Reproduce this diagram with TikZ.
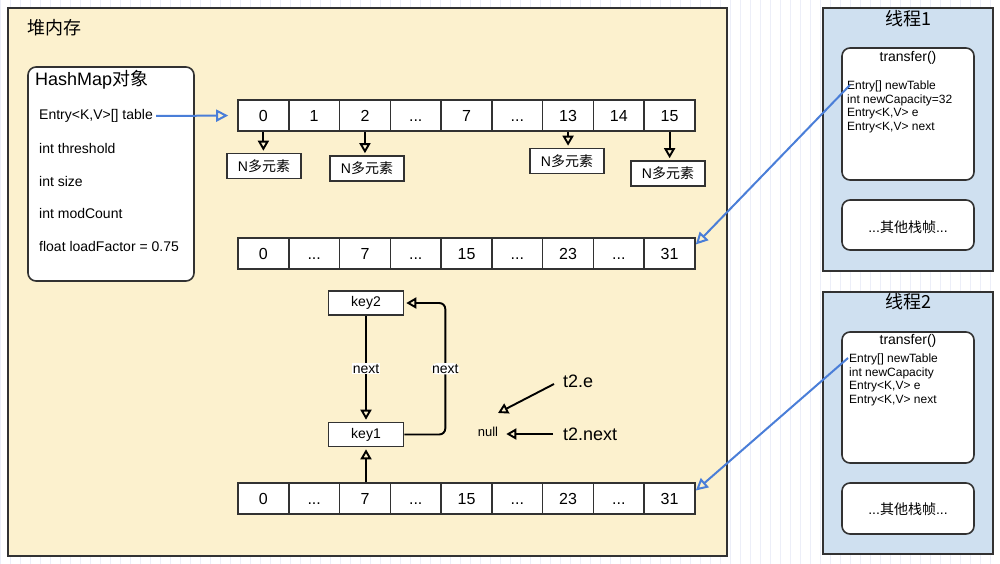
\documentclass[tikz,border=0pt]{standalone}
\usepackage{fontspec}
\setmainfont{Liberation Sans}
\newfontfamily\cjk{Noto Sans CJK SC}
\usetikzlibrary{arrows.meta}
\definecolor{heapfill}{RGB}{252,241,206}
\definecolor{thrfill}{RGB}{207,224,240}
\definecolor{edge}{RGB}{50,50,50}
\definecolor{blueline}{RGB}{74,126,216}
\definecolor{gridc}{RGB}{236,238,248}
\newcommand\ddd{...}
\newcommand\fs[1]{\fontsize{#1}{#1}\selectfont}
\tikzset{
  heapbox/.style={draw=edge, line width=1.6pt, fill=heapfill},
  thrbox/.style={draw=edge, line width=1.6pt, fill=thrfill},
  frame/.style={draw=edge, line width=1.6pt, fill=white, rounded corners=8pt},
  cell/.style={draw=edge, line width=1.6pt, fill=white, minimum width=50.78pt, minimum height=31pt, inner sep=0pt, text height=11.5pt, text depth=0pt, font=\fs{16}},
  nbox/.style={draw=edge, line width=1.6pt, fill=white, minimum width=74pt, minimum height=25pt, inner sep=0pt, font=\fs{14}},
  keybox/.style={draw=edge, line width=1.6pt, fill=white, minimum width=75pt, minimum height=24pt, inner sep=0pt, font=\fs{14}},
  field/.style={anchor=west, inner sep=0pt, font=\fs{14}},
  tfield/.style={anchor=west, inner sep=0pt, font=\fs{12}},
  blk/.style={draw=black, line width=1.9pt, -{Triangle[open, length=10pt, width=11pt]}},
  blu/.style={draw=blueline, line width=2pt, -{Triangle[open, length=12pt, width=12pt]}},
  lbl/.style={fill=white, inner sep=1pt, font=\fs{14}},
}
\begin{document}
\begin{tikzpicture}[x=1pt,y=-1pt]
\useasboundingbox (0,0) rectangle (1000,564);
\fill[white] (0,0) rectangle (1000,564);
\draw[gridc, line width=0.5pt, step=10] (0,0) grid (1000,564);

% heap
\draw[heapbox] (8,8) rectangle (727,556);
\node[anchor=west, inner sep=0pt, font=\fs{18}\cjk] (heapt) at (27,28) {堆内存};

% HashMap object
\draw[frame] (28,67) rectangle (194,281);
\node[anchor=west, inner sep=0pt, font=\fs{18}] (hmt) at (35,80) {HashMap{\cjk 对象}};
\node[field] (ftab) at (39,116) {Entry<K,V>[] table};
\node[field] (fthr) at (39,148) {int threshold};
\node[field] (fsz) at (39,181) {int size};
\node[field] (fmod) at (39,213) {int modCount};
\node[field] (flf) at (39,246) {float loadFactor = 0.75};

% arrays
\foreach \lab [count=\i from 0] in {0,1,2,\ddd,7,\ddd,13,14,15}
  \node[cell] (a1-\i) at ({238+50.78*(\i+0.5)},115.5) {\lab};
\foreach \lab [count=\i from 0] in {0,\ddd,7,\ddd,15,\ddd,23,\ddd,31}
  \node[cell] (a2-\i) at ({238+50.78*(\i+0.5)},253.5) {\lab};
\foreach \lab [count=\i from 0] in {0,\ddd,7,\ddd,15,\ddd,23,\ddd,31}
  \node[cell] (a3-\i) at ({238+50.78*(\i+0.5)},498.5) {\lab};

\draw[blu, shorten >=9pt] ([xshift=3pt]ftab.east) -- (a1-0.west);

% N elements
\node[nbox] (n0) at (264,166) {N{\cjk 多元素}};
\node[nbox] (n2) at (367,168.5) {N{\cjk 多元素}};
\node[nbox] (n13) at (567,161) {N{\cjk 多元素}};
\node[nbox] (n15) at (668,173.5) {N{\cjk 多元素}};
\draw[blk, shorten >=2pt] (a1-0.south) -- (a1-0.south |- n0.north);
\draw[blk, shorten >=2pt] (a1-2.south) -- (a1-2.south |- n2.north);
\draw[blk, shorten >=2pt] (a1-6.south) -- (a1-6.south |- n13.north);
\draw[blk, shorten >=2pt] (a1-8.south) -- (a1-8.south |- n15.north);

% keys
\node[keybox] (k2) at (366,303) {key2};
\node[keybox] (k1) at (366,434.5) {key1};
\draw[blk, shorten >=2pt] (k2.south) -- node[lbl] {next} (k1.north);
\draw[blk, rounded corners=6pt, shorten >=2pt] (k1.east) -| ([xshift=41pt]k2.east) node[lbl, pos=0.75] {next} -- (k2.east);
\draw[blk, shorten >=2pt] (k1.south |- a3-2.north) -- (k1.south);

% t2 pointers
\node[inner sep=0pt, font=\fs{13}] (null) at (488,432) {null};
\coordinate (nullup) at (498,413);
\node[anchor=west, inner sep=0pt, font=\fs{18}] (t2e) at (563,381) {t2.e};
\node[anchor=west, inner sep=0pt, font=\fs{18}] (t2n) at (563,434) {t2.next};
\draw[blk] ([xshift=-9pt,yshift=-3pt]t2e.west) -- (nullup);
\draw[blk] ([xshift=-10pt]t2n.west) -- ([xshift=8pt,yshift=-2pt]null.east);

% thread 1
\draw[thrbox] (823,8) rectangle (993,271);
\node[inner sep=0pt, font=\fs{18}\cjk] (th1) at (908,19) {线程1};
\draw[frame] (842,48) rectangle (974,180);
\node[inner sep=0pt, font=\fs{14}] (tr1) at (908,58) {transfer()};
\node[tfield] (t1a) at (847,86) {Entry[] newTable};
\node[tfield] (t1b) at (847,100) {int newCapacity=32};
\node[tfield] (t1c) at (847,114) {Entry<K,V> e};
\node[tfield] (t1d) at (847,128) {Entry<K,V> next};
\draw[frame] (842,200) rectangle (974,250);
\node[inner sep=0pt, font=\fs{14}] (o1) at (908,227) {...{\cjk 其他栈帧}...};

% thread 2
\draw[thrbox] (823,292) rectangle (993,554);
\node[inner sep=0pt, font=\fs{18}\cjk] (th2) at (908,302) {线程2};
\draw[frame] (842,332) rectangle (974,463);
\node[inner sep=0pt, font=\fs{14}] (tr2) at (908,341) {transfer()};
\node[tfield] (t2a) at (849,359) {Entry[] newTable};
\node[tfield] (t2b) at (849,373) {int newCapacity};
\node[tfield] (t2c) at (849,387) {Entry<K,V> e};
\node[tfield] (t2d) at (849,401) {Entry<K,V> next};
\draw[frame] (842,483) rectangle (974,534);
\node[inner sep=0pt, font=\fs{14}] (o2) at (908,509) {...{\cjk 其他栈帧}...};

% blue pointers
\draw[blu] ([xshift=3pt,yshift=1pt]t1a.west) -- ([yshift=9pt]a2-8.east);
\draw[blu] ([xshift=-1pt,yshift=1pt]t2a.west) -- ([yshift=8pt]a3-8.east);
\end{tikzpicture}
\end{document}
